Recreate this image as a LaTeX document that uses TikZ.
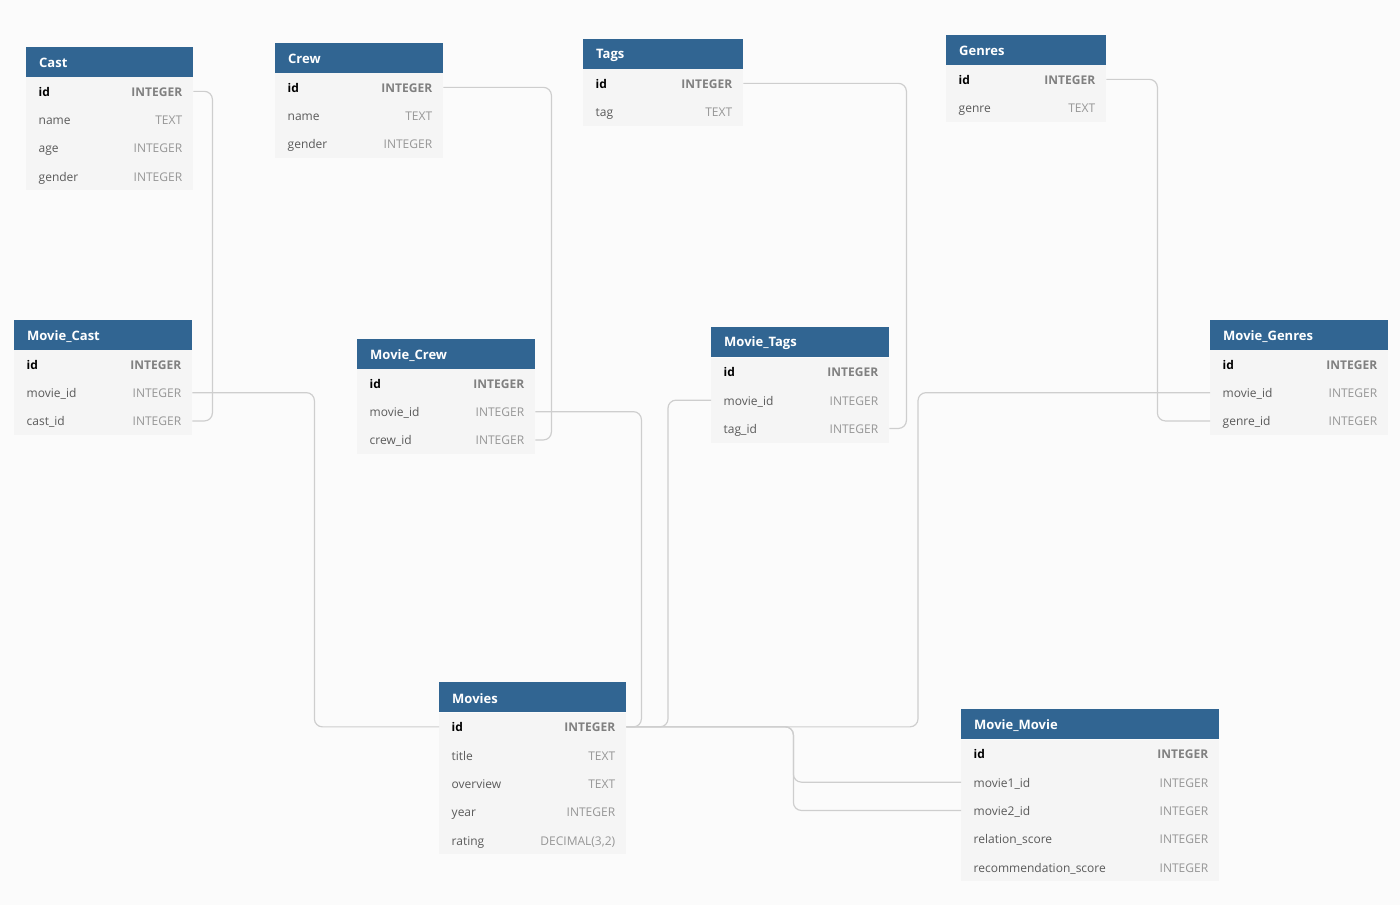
\documentclass[tikz,border=0pt]{standalone}
\usepackage{fontspec}
\setmainfont{Open Sans}
\definecolor{headblue}{RGB}{49,101,146}
\definecolor{rowgray}{RGB}{245,245,245}
\definecolor{bggray}{RGB}{251,251,251}
\definecolor{namegray}{RGB}{90,90,90}
\definecolor{typegray}{RGB}{150,150,150}
\definecolor{keygray}{RGB}{128,128,128}
\definecolor{linkgray}{RGB}{206,206,206}

\begin{document}
\begin{tikzpicture}[
x=1pt, y=-1pt,
head/.style={
  fill=headblue,
  anchor=north west,
  minimum width=#1,
  minimum height=30,
  inner sep=0
  },
title/.style={
  anchor=west,
  inner xsep=13,
  yshift=-1pt,
  text=white,
  font=\bfseries\fontsize{13}{15}\selectfont
  },
field/.style={
  fill=rowgray,
  anchor=north west,
  minimum width=#1,
  minimum height=28.3,
  inner sep=0
  },
fname/.style={
  anchor=west,
  inner xsep=12.5,
  yshift=-2pt,
  text=namegray,
  text height=9pt,
  text depth=3pt,
  font=\fontsize{12}{14}\selectfont
  },
ftype/.style={
  anchor=east,
  inner xsep=11,
  yshift=-2pt,
  text=typegray,
  text height=9pt,
  text depth=3pt,
  font=\fontsize{12}{14}\selectfont
  },
link/.style={
  draw=linkgray,
  line width=1.2,
  rounded corners=8
  }
]
\fill[bggray] (0,0) rectangle (1400,905);
\useasboundingbox (0,0) rectangle (1400,905);

% Cast
\node[head=167] (cast) at (26,47) {};
\node[title] at (cast.west) {Cast};
\foreach \f/\t [count=\i] in {id/INTEGER,name/TEXT,age/INTEGER,gender/INTEGER}
{
  \node[field=167] (cast-\i) at (26,{77+(\i-1)*28.3}) {};
  \node[fname] at (cast-\i.west) {\ifnum\i=1\bfseries\color{black}\fi\f};
  \node[ftype] at (cast-\i.east) {\ifnum\i=1\bfseries\color{keygray}\fi\t};
}

% Crew
\node[head=168] (crew) at (275,43) {};
\node[title] at (crew.west) {Crew};
\foreach \f/\t [count=\i] in {id/INTEGER,name/TEXT,gender/INTEGER}
{
  \node[field=168] (crew-\i) at (275,{73+(\i-1)*28.3}) {};
  \node[fname] at (crew-\i.west) {\ifnum\i=1\bfseries\color{black}\fi\f};
  \node[ftype] at (crew-\i.east) {\ifnum\i=1\bfseries\color{keygray}\fi\t};
}

% Tags
\node[head=160] (tags) at (583,39) {};
\node[title] at (tags.west) {Tags};
\foreach \f/\t [count=\i] in {id/INTEGER,tag/TEXT}
{
  \node[field=160] (tags-\i) at (583,{69+(\i-1)*28.3}) {};
  \node[fname] at (tags-\i.west) {\ifnum\i=1\bfseries\color{black}\fi\f};
  \node[ftype] at (tags-\i.east) {\ifnum\i=1\bfseries\color{keygray}\fi\t};
}

% Genres
\node[head=160] (genres) at (946,35) {};
\node[title] at (genres.west) {Genres};
\foreach \f/\t [count=\i] in {id/INTEGER,genre/TEXT}
{
  \node[field=160] (genres-\i) at (946,{65+(\i-1)*28.3}) {};
  \node[fname] at (genres-\i.west) {\ifnum\i=1\bfseries\color{black}\fi\f};
  \node[ftype] at (genres-\i.east) {\ifnum\i=1\bfseries\color{keygray}\fi\t};
}

% Movie_Cast
\node[head=178] (mcast) at (14,320) {};
\node[title] at (mcast.west) {Movie\_Cast};
\foreach \f/\t [count=\i] in {id/INTEGER,movie\_id/INTEGER,cast\_id/INTEGER}
{
  \node[field=178] (mcast-\i) at (14,{350+(\i-1)*28.3}) {};
  \node[fname] at (mcast-\i.west) {\ifnum\i=1\bfseries\color{black}\fi\f};
  \node[ftype] at (mcast-\i.east) {\ifnum\i=1\bfseries\color{keygray}\fi\t};
}

% Movie_Crew
\node[head=178] (mcrew) at (357,339) {};
\node[title] at (mcrew.west) {Movie\_Crew};
\foreach \f/\t [count=\i] in {id/INTEGER,movie\_id/INTEGER,crew\_id/INTEGER}
{
  \node[field=178] (mcrew-\i) at (357,{369+(\i-1)*28.3}) {};
  \node[fname] at (mcrew-\i.west) {\ifnum\i=1\bfseries\color{black}\fi\f};
  \node[ftype] at (mcrew-\i.east) {\ifnum\i=1\bfseries\color{keygray}\fi\t};
}

% Movie_Tags
\node[head=178] (mtags) at (711,327) {};
\node[title] at (mtags.west) {Movie\_Tags};
\foreach \f/\t [count=\i] in {id/INTEGER,movie\_id/INTEGER,tag\_id/INTEGER}
{
  \node[field=178] (mtags-\i) at (711,{357.5+(\i-1)*28.3}) {};
  \node[fname] at (mtags-\i.west) {\ifnum\i=1\bfseries\color{black}\fi\f};
  \node[ftype] at (mtags-\i.east) {\ifnum\i=1\bfseries\color{keygray}\fi\t};
}

% Movie_Genres
\node[head=178] (mgenres) at (1210,320) {};
\node[title] at (mgenres.west) {Movie\_Genres};
\foreach \f/\t [count=\i] in {id/INTEGER,movie\_id/INTEGER,genre\_id/INTEGER}
{
  \node[field=178] (mgenres-\i) at (1210,{350+(\i-1)*28.3}) {};
  \node[fname] at (mgenres-\i.west) {\ifnum\i=1\bfseries\color{black}\fi\f};
  \node[ftype] at (mgenres-\i.east) {\ifnum\i=1\bfseries\color{keygray}\fi\t};
}

% Movies
\node[head=187] (movies) at (439,682) {};
\node[title] at (movies.west) {Movies};
\foreach \f/\t [count=\i] in {id/INTEGER,title/TEXT,overview/TEXT,year/INTEGER,rating/{DECIMAL(3,2)}}
{
  \node[field=187] (movies-\i) at (439,{712.5+(\i-1)*28.3}) {};
  \node[fname] at (movies-\i.west) {\ifnum\i=1\bfseries\color{black}\fi\f};
  \node[ftype] at (movies-\i.east) {\ifnum\i=1\bfseries\color{keygray}\fi\t};
}

% Movie_Movie
\node[head=258] (mmovie) at (961,709) {};
\node[title] at (mmovie.west) {Movie\_Movie};
\foreach \f/\t [count=\i] in {id/INTEGER,movie1\_id/INTEGER,movie2\_id/INTEGER,relation\_score/INTEGER,recommendation\_score/INTEGER}
{
  \node[field=258] (mmovie-\i) at (961,{739.5+(\i-1)*28.3}) {};
  \node[fname] at (mmovie-\i.west) {\ifnum\i=1\bfseries\color{black}\fi\f};
  \node[ftype] at (mmovie-\i.east) {\ifnum\i=1\bfseries\color{keygray}\fi\t};
}

% references
\draw[link] (cast-1.east) -- ++(19,0) |- (mcast-3.east);
\draw[link] (crew-1.east) -- ++(108,0) |- (mcrew-3.east);
\draw[link] (tags-1.east) -- ++(163,0) |- (mtags-3.east);
\draw[link] (genres-1.east) -- ++(51,0) |- (mgenres-3.west);
\draw[link] (mcast-2.east) -- ++(122,0) |- (movies-1.west);
\draw[link] (mcrew-2.east) -- ++(106,0) |- (movies-1.east);
\draw[link] (mtags-2.west) -- ++(-43,0) |- (movies-1.east);
\draw[link] (mgenres-2.west) -- ++(-292,0) |- (movies-1.east);
\draw[link] (movies-1.east) -- ++(167,0) |- (mmovie-2.west);
\draw[link] (movies-1.east) -- ++(167,0) |- (mmovie-3.west);

\end{tikzpicture}
\end{document}
